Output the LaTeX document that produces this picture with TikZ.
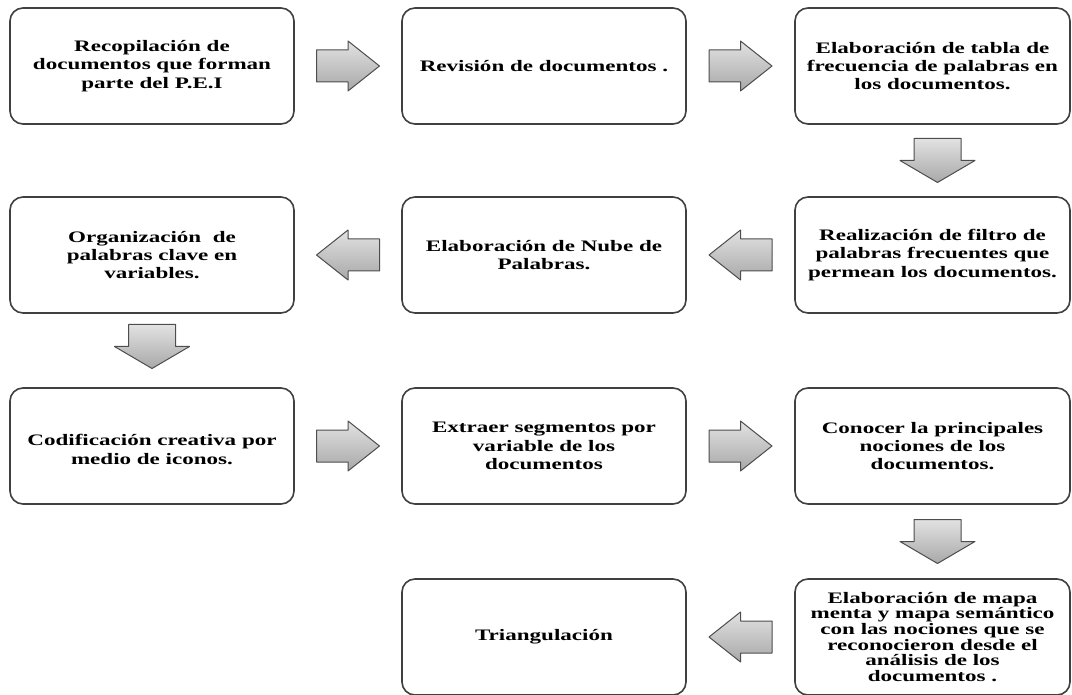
\documentclass[tikz,border=0pt]{standalone}
\usepackage{fontspec}
\usepackage{xcolor}
\usepackage{tikz}
\usetikzlibrary{calc, positioning}
\newfontfamily\boxfont{Liberation Serif}[FakeStretch=1.44]
\definecolor{arrowline}{HTML}{4D4D4D}
\definecolor{arrowlight}{HTML}{E2E2E2}
\definecolor{arrowdark}{HTML}{A8A8A8}
\tikzset{
    stage/.style={rectangle, rounded corners=13pt, draw=black!75, line width=1.6pt, fill=white, align=center,
        minimum width=284pt, minimum height=116pt, inner sep=4pt, outer sep=0pt,
        font=\boxfont\bfseries\fontsize{16}{18.4}\selectfont},
    narrow/.style={minimum width=275pt},
    arrowbody/.style={draw=arrowline, line width=1pt, top color=arrowlight, bottom color=arrowdark, line join=round},
    harrow/.pic={\path[arrowbody] (-31.5pt,16pt) -- (0pt,16pt) -- (0pt,25pt) -- (31.5pt,0pt) -- (0pt,-25pt) -- (0pt,-16pt) -- (-31.5pt,-16pt) -- cycle;},
    varrow/.pic={\path[arrowbody] (-23.5pt,22pt) -- (23.5pt,22pt) -- (23.5pt,0pt) -- (37.5pt,0pt) -- (0pt,-22pt) -- (-37.5pt,0pt) -- (-23.5pt,0pt) -- cycle;}
}
\begin{document}
\begin{tikzpicture}
    \useasboundingbox (0,0) rectangle (1072pt,-695pt);

    % Row 1
    \node[stage, anchor=north west] (Recop) at (10pt,-8pt) {Recopilación de\\documentos que forman\\parte del P.E.I};
    \node[stage, right=108pt of Recop] (Revis) {Revisión de documentos .};
    \node[stage, narrow, right=109pt of Revis] (Tabla) {Elaboración de tabla de\\frecuencia de palabras en\\los documentos.};

    % Row 2
    \node[stage, narrow, below=73pt of Tabla] (Filtro) {Realización de filtro de\\palabras frecuentes que\\permean los documentos.};
    \node[stage, left=109pt of Filtro] (Nube) {Elaboración de Nube de\\Palabras.};
    \node[stage, left=108pt of Nube] (Organ) {Organización\ \ de\\palabras clave en\\variables.};

    % Row 3
    \node[stage, below=75pt of Organ] (Codif) {\mbox{}\\Codificación creativa por\\medio de iconos.};
    \node[stage, right=108pt of Codif] (Extra) {Extraer segmentos por\\variable de los\\documentos};
    \node[stage, narrow, right=109pt of Extra] (Nocio) {Conocer la principales\\nociones de los\\documentos.};

    % Row 4
    \node[stage, narrow, below=75pt of Nocio, font=\boxfont\bfseries\fontsize{16}{15.7}\selectfont] (Mapa) {Elaboración de mapa\\menta y mapa semántico\\con las nociones que se\\reconocieron desde el\\análisis de los\\documentos .};
    \node[stage, left=109pt of Mapa] (Triang) {Triangulación};

    % Arrows
    \pic at ($(Recop.east)!0.5!(Revis.west)$) {harrow};
    \pic at ($(Revis.east)!0.5!(Tabla.west)$) {harrow};
    \pic at ($(Tabla.south)!0.5!(Filtro.north)+(5pt,0)$) {varrow};
    \pic[xscale=-1] at ($(Filtro.west)!0.5!(Nube.east)$) {harrow};
    \pic[xscale=-1] at ($(Nube.west)!0.5!(Organ.east)$) {harrow};
    \pic at ($(Organ.south)!0.5!(Codif.north)+(0,4pt)$) {varrow};
    \pic at ($(Codif.east)!0.5!(Extra.west)$) {harrow};
    \pic at ($(Extra.east)!0.5!(Nocio.west)$) {harrow};
    \pic at ($(Nocio.south)!0.5!(Mapa.north)+(5pt,0)$) {varrow};
    \pic[xscale=-1] at ($(Mapa.west)!0.5!(Triang.east)$) {harrow};

\end{tikzpicture}
\end{document}
